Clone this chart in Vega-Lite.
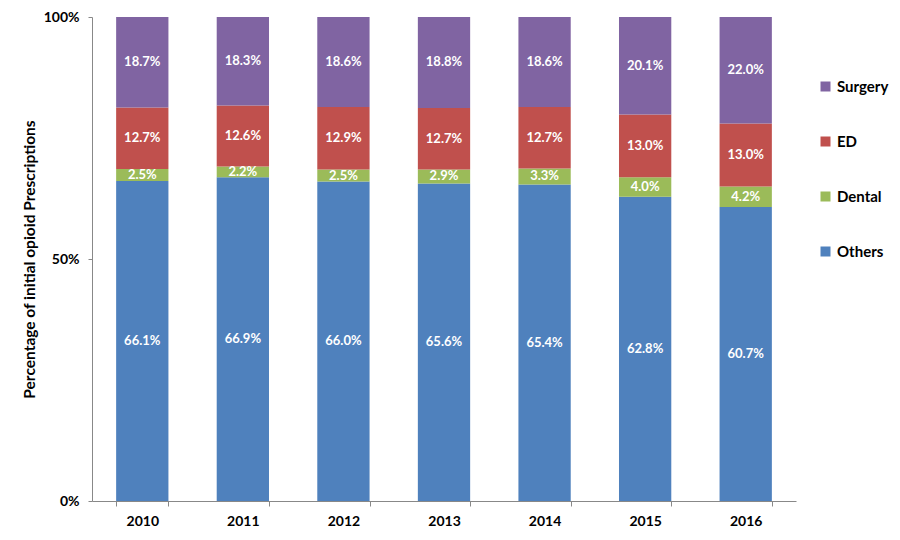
{
  "$schema": "https://vega.github.io/schema/vega-lite/v6.json",
  "autosize": "none",
  "width": 704,
  "height": 484,
  "padding": {"left": 92, "top": 17, "right": 104, "bottom": 39},
  "background": "white",
  "config": {
    "font": "Lato",
    "view": {"stroke": null},
    "axis": {"labelFont": "Lato", "titleFont": "Lato", "labelFontWeight": "bold", "titleFontWeight": "bold", "labelColor": "#000", "titleColor": "#000", "domainColor": "#888", "tickColor": "#888", "grid": false}
  },
  "data": {
    "values": [
      {"year": "2010", "type": "Others", "rank": 1, "value": 0.661},
      {"year": "2010", "type": "Dental", "rank": 2, "value": 0.025},
      {"year": "2010", "type": "ED", "rank": 3, "value": 0.127},
      {"year": "2010", "type": "Surgery", "rank": 4, "value": 0.187},
      {"year": "2011", "type": "Others", "rank": 1, "value": 0.669},
      {"year": "2011", "type": "Dental", "rank": 2, "value": 0.022},
      {"year": "2011", "type": "ED", "rank": 3, "value": 0.126},
      {"year": "2011", "type": "Surgery", "rank": 4, "value": 0.183},
      {"year": "2012", "type": "Others", "rank": 1, "value": 0.660},
      {"year": "2012", "type": "Dental", "rank": 2, "value": 0.025},
      {"year": "2012", "type": "ED", "rank": 3, "value": 0.129},
      {"year": "2012", "type": "Surgery", "rank": 4, "value": 0.186},
      {"year": "2013", "type": "Others", "rank": 1, "value": 0.656},
      {"year": "2013", "type": "Dental", "rank": 2, "value": 0.029},
      {"year": "2013", "type": "ED", "rank": 3, "value": 0.127},
      {"year": "2013", "type": "Surgery", "rank": 4, "value": 0.188},
      {"year": "2014", "type": "Others", "rank": 1, "value": 0.654},
      {"year": "2014", "type": "Dental", "rank": 2, "value": 0.033},
      {"year": "2014", "type": "ED", "rank": 3, "value": 0.127},
      {"year": "2014", "type": "Surgery", "rank": 4, "value": 0.186},
      {"year": "2015", "type": "Others", "rank": 1, "value": 0.628},
      {"year": "2015", "type": "Dental", "rank": 2, "value": 0.040},
      {"year": "2015", "type": "ED", "rank": 3, "value": 0.130},
      {"year": "2015", "type": "Surgery", "rank": 4, "value": 0.201},
      {"year": "2016", "type": "Others", "rank": 1, "value": 0.607},
      {"year": "2016", "type": "Dental", "rank": 2, "value": 0.042},
      {"year": "2016", "type": "ED", "rank": 3, "value": 0.130},
      {"year": "2016", "type": "Surgery", "rank": 4, "value": 0.220}
    ]
  },
  "transform": [
    {"stack": "value", "groupby": ["year"], "sort": [{"field": "rank", "order": "ascending"}], "offset": "normalize", "as": ["y0", "y1"]},
    {"calculate": "(datum.y0 + datum.y1) / 2", "as": "ymid"}
  ],
  "encoding": {
    "x": {
      "field": "year", "type": "ordinal",
      "scale": {"paddingInner": 0.48, "paddingOuter": 0.24},
      "axis": {"title": null, "labelAngle": 0, "labelFontSize": 14, "tickBand": "extent", "tickSize": 5, "labelPadding": 8}
    }
  },
  "layer": [
    {
      "mark": {"type": "bar"},
      "encoding": {
        "y": {"field": "y0", "type": "quantitative", "scale": {"domain": [0, 1]},
          "axis": {"title": "Percentage of initial opioid Prescriptions", "titleFontSize": 15.5, "values": [0, 0.5, 1], "format": "%", "labelFontSize": 14, "tickSize": 4, "labelPadding": 9, "titlePadding": 6}},
        "y2": {"field": "y1"},
        "color": {
          "field": "type", "type": "nominal",
          "scale": {"domain": ["Surgery", "ED", "Dental", "Others"], "range": ["#8064A2", "#C0504D", "#9BBB59", "#4F81BD"]},
          "legend": {"title": null, "orient": "none", "legendX": 726, "legendY": 62, "symbolType": "square", "symbolSize": 100, "symbolStrokeWidth": 0, "labelFontSize": 15, "labelFontWeight": "bold", "labelColor": "#000", "labelFont": "Lato", "rowPadding": 39, "padding": 0, "labelOffset": 4}
        }
      }
    },
    {
      "mark": {"type": "text", "color": "white", "fontWeight": "bold", "fontSize": 13, "font": "Lato"},
      "encoding": {
        "y": {"field": "ymid", "type": "quantitative"},
        "text": {"field": "value", "type": "quantitative", "format": ".1%"}
      }
    }
  ]
}
